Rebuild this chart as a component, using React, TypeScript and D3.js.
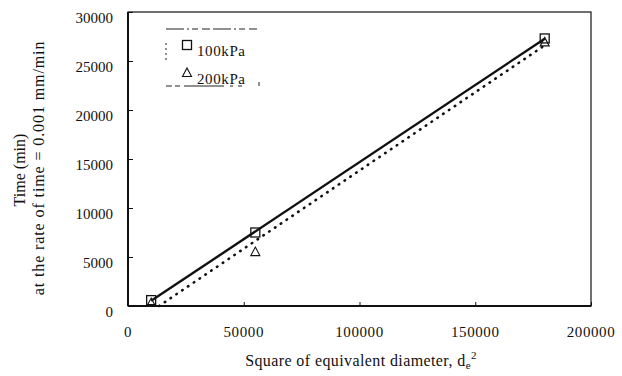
import React, { useEffect, useRef } from 'react';
import * as d3 from 'd3';

// Series
const xValues = [10000, 55000, 180000];
const kPa100 = [600, 7500, 27300];
const kPa200 = [300, 5500, 26900];
const seriesNames = ['100kPa', '200kPa'];
const xTicks = [0, 50000, 100000, 150000, 200000];
const yTicks = [0, 5000, 10000, 15000, 20000, 25000, 30000];

// least squares fit, used for the two trend lines
const fit = (xs: number[], ys: number[]) => {
  const mx = d3.mean(xs) as number;
  const my = d3.mean(ys) as number;
  let sxy = 0;
  let sxx = 0;
  xs.forEach((x, i) => {
    sxy += (x - mx) * (ys[i] - my);
    sxx += (x - mx) * (x - mx);
  });
  const slope = sxy / sxx;
  return { slope, intercept: my - slope * mx };
};

const App = () => {
  const ref = useRef<SVGSVGElement>(null);

  useEffect(() => {
    const svg = d3.select(ref.current);
    svg.selectAll('*').remove();

    const width = 622;
    const height = 376;
    const margin = { top: 12, right: 31, bottom: 70, left: 128 };
    const font = '"Liberation Serif", "Times New Roman", serif';

    const x = d3.scaleLinear().domain([0, 200000]).range([margin.left, width - margin.right]);
    const y = d3.scaleLinear().domain([0, 30000]).range([height - margin.bottom, margin.top]);

    // frame
    svg.append('rect')
      .attr('x', x(0)).attr('y', y(30000))
      .attr('width', x(200000) - x(0)).attr('height', y(0) - y(30000))
      .attr('fill', 'none').attr('stroke', '#111').attr('stroke-width', 1.2);
    svg.append('line')
      .attr('x1', x(0)).attr('x2', x(0)).attr('y1', y(30000)).attr('y2', y(0))
      .attr('stroke', '#111').attr('stroke-width', 2);
    svg.append('line')
      .attr('x1', x(0)).attr('x2', x(200000)).attr('y1', y(0)).attr('y2', y(0))
      .attr('stroke', '#111').attr('stroke-width', 2);

    // y axis (ticks point inward)
    const yAxis = svg.append('g')
      .attr('transform', `translate(${x(0)},0)`)
      .call(d3.axisRight(y).tickValues(yTicks).tickSize(5).tickFormat(() => ''));
    yAxis.select('.domain').remove();
    yAxis.selectAll('line').attr('stroke', '#111');
    svg.append('g').selectAll('text')
      .data(yTicks).enter().append('text')
      .attr('x', x(0) - 15).attr('y', d => y(d) + 11)
      .attr('text-anchor', 'end')
      .attr('fill', '#111')
      .style('font-family', font).style('font-size', '15px')
      .text(d => String(d));

    // x axis
    const xAxis = svg.append('g')
      .attr('transform', `translate(0,${y(0)})`)
      .call(d3.axisTop(x).tickValues(xTicks).tickSize(4).tickFormat(() => ''));
    xAxis.select('.domain').remove();
    xAxis.selectAll('line').attr('stroke', '#111');
    svg.append('g').selectAll('text')
      .data(xTicks).enter().append('text')
      .attr('x', d => x(d)).attr('y', y(0) + 31)
      .attr('text-anchor', 'middle')
      .attr('fill', '#111')
      .style('font-family', font).style('font-size', '15px').style('letter-spacing', '0.6px')
      .text(d => String(d));

    // trend lines
    const drawFit = (ys: number[], dash: string | null, w: number) => {
      const { slope, intercept } = fit(xValues, ys);
      const x0 = Math.max(xValues[0], -intercept / slope);
      const x1 = xValues[xValues.length - 1];
      const p = svg.append('line')
        .attr('x1', x(x0)).attr('y1', y(slope * x0 + intercept))
        .attr('x2', x(x1)).attr('y2', y(slope * x1 + intercept))
        .attr('stroke', '#111').attr('stroke-width', w);
      if (dash) p.attr('stroke-dasharray', dash).attr('stroke-linecap', 'round');
    };
    drawFit(kPa100, null, 2.4);
    drawFit(kPa200, '0.5,6.5', 2.6);

    // markers
    const square = (cx: number, cy: number) =>
      svg.append('rect')
        .attr('x', cx - 4.5).attr('y', cy - 4.5).attr('width', 9).attr('height', 9)
        .attr('fill', 'none').attr('stroke', '#111').attr('stroke-width', 1.3);
    const triangle = (cx: number, cy: number) =>
      svg.append('path')
        .attr('d', `M${cx},${cy - 5}L${cx + 4.5},${cy + 3.5}L${cx - 4.5},${cy + 3.5}Z`)
        .attr('fill', 'none').attr('stroke', '#111').attr('stroke-width', 1.1);

    xValues.forEach((v, i) => square(x(v), y(kPa100[i])));
    xValues.forEach((v, i) => triangle(x(v), y(kPa200[i])));

    // legend
    svg.append('line').attr('x1', 166).attr('x2', 259).attr('y1', 29).attr('y2', 29)
      .attr('stroke', '#222').attr('stroke-dasharray', '18,3,2,3,6,4,8,3');
    svg.append('line').attr('x1', 166).attr('x2', 259).attr('y1', 86).attr('y2', 86)
      .attr('stroke', '#222').attr('stroke-dasharray', '6,3,5,4,40');
    svg.append('line').attr('x1', 166).attr('x2', 166).attr('y1', 43).attr('y2', 61)
      .attr('stroke', '#222').attr('stroke-dasharray', '2,3');
    svg.append('line').attr('x1', 259).attr('x2', 259).attr('y1', 82).attr('y2', 86)
      .attr('stroke', '#222');
    square(187, 45);
    triangle(187, 73);
    svg.append('text').attr('x', 197).attr('y', 56)
      .attr('fill', '#111')
      .style('font-family', font).style('font-size', '15px').style('letter-spacing', '0.6px')
      .text(seriesNames[0]);
    svg.append('text').attr('x', 197).attr('y', 84)
      .attr('fill', '#111')
      .style('font-family', font).style('font-size', '15px').style('letter-spacing', '0.6px')
      .text(seriesNames[1]);

    // axis titles
    const xt = svg.append('text')
      .attr('x', 361).attr('y', 366)
      .attr('text-anchor', 'middle')
      .attr('fill', '#111')
      .style('font-family', font).style('font-size', '16px').style('letter-spacing', '0.4px');
    xt.append('tspan').text('Square of equivalent diameter, d');
    xt.append('tspan').attr('dy', 3).style('font-size', '11px').text('e');
    xt.append('tspan').attr('dy', -10).style('font-size', '11px').text('2');

    svg.append('text')
      .attr('transform', 'translate(25,170) rotate(-90)')
      .attr('text-anchor', 'middle')
      .attr('fill', '#111')
      .style('font-family', font).style('font-size', '16px')
      .text('Time (min)');
    svg.append('text')
      .attr('transform', 'translate(44,168) rotate(-90)')
      .attr('text-anchor', 'middle')
      .attr('fill', '#111')
      .style('font-family', font).style('font-size', '16px').style('letter-spacing', '0.9px')
      .text('at the rate of time = 0.001 mm/min');
  }, []);

  return (
    <svg
      ref={ref}
      width={622}
      height={376}
      style={{ position: 'absolute', left: 0, top: 0, background: '#fff' }}
    />
  );
};

export default App;
